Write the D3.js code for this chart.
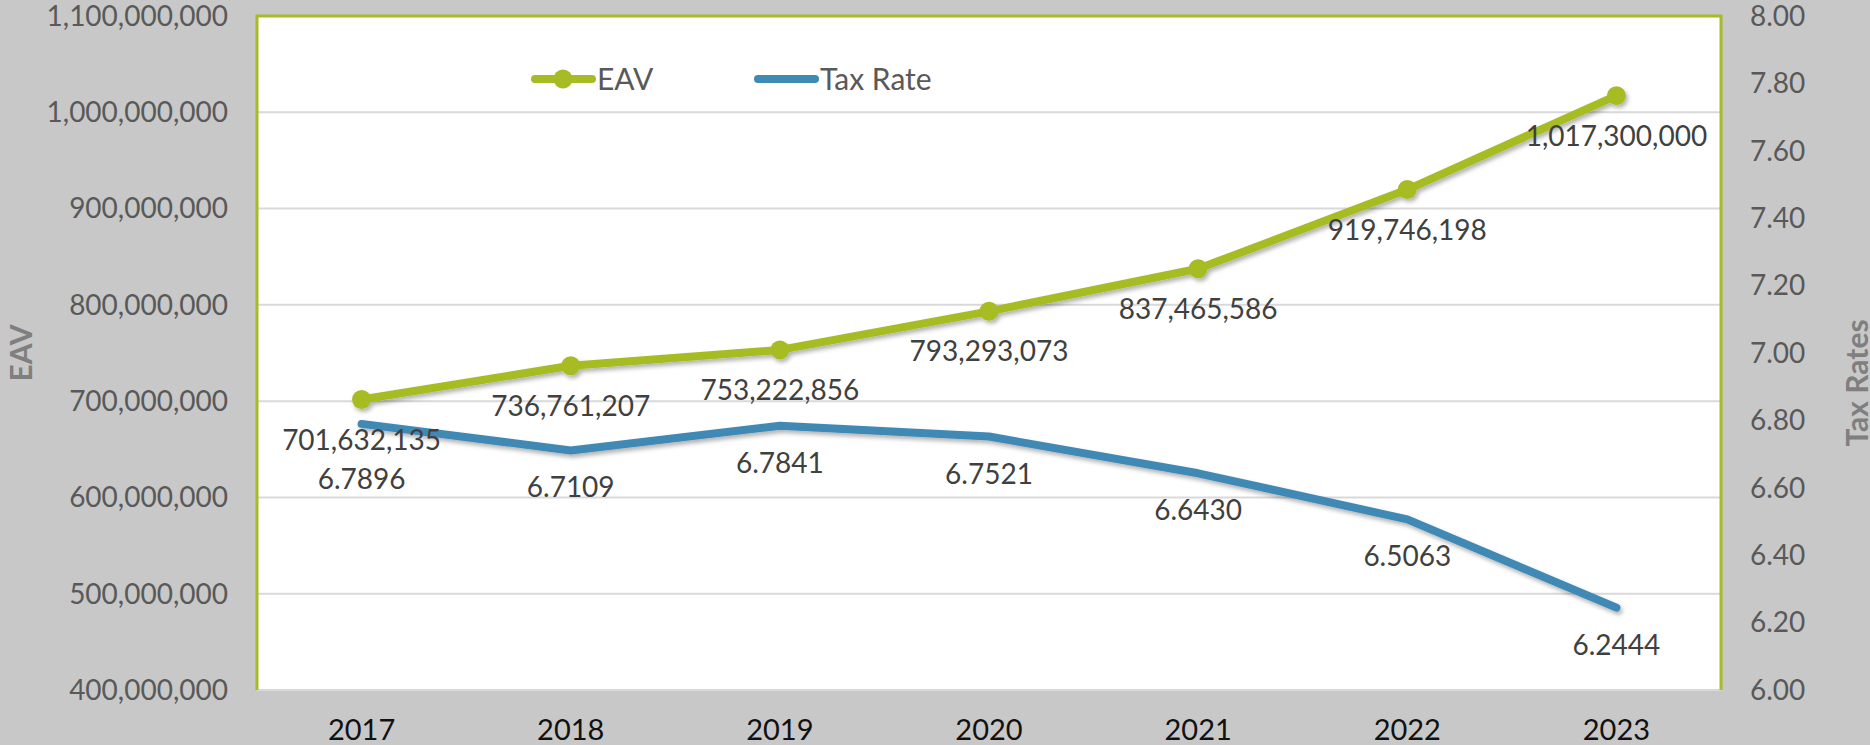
<!DOCTYPE html>
<html>
<head>
<meta charset="utf-8">
<script src="https://cdn.jsdelivr.net/npm/d3@7"></script>
<style>
  body { margin: 0; background: #c8c8c8; }
  svg { display: block; font-family: Lato, "Open Sans", sans-serif; }
</style>
</head>
<body>
<script>
// values
var years = ["2017", "2018", "2019", "2020", "2021", "2022", "2023"];
var eav = [701632135, 736761207, 753222856, 793293073, 837465586, 919746198, 1017300000];
var taxRate = [6.7896, 6.7109, 6.7841, 6.7521, 6.6430, 6.5063, 6.2444];
var eavTicks = [400e6, 500e6, 600e6, 700e6, 800e6, 900e6, 1000e6, 1100e6];
var rateTicks = [6.0, 6.2, 6.4, 6.6, 6.8, 7.0, 7.2, 7.4, 7.6, 7.8, 8.0];

var W = 1870, H = 745;
// note: "top" is taken by window.top, so the plot edges get a prefix
var pL = 257, pR = 1721, pT = 16, pB = 690;
var green = "#a7bb24", blue = "#3f89b5";

var svg = d3.select("body").append("svg").attr("width", W).attr("height", H);

var defs = svg.append("defs");
var f = defs.append("filter").attr("id", "shadow")
  .attr("x", "-5%").attr("y", "-20%").attr("width", "110%").attr("height", "140%");
f.append("feDropShadow").attr("dx", 2).attr("dy", 3).attr("stdDeviation", 2)
  .attr("flood-color", "#000").attr("flood-opacity", 0.3);

var x = d3.scaleBand().domain(years).range([pL, pR]);
var cx = function (d) { return x(d) + x.bandwidth() / 2; };
var yL = d3.scaleLinear().domain([400e6, 1100e6]).range([pB, pT]);
var yR = d3.scaleLinear().domain([6, 8]).range([pB, pT]);

// plot area
svg.append("rect").attr("x", pL).attr("y", pT)
  .attr("width", pR - pL).attr("height", pB - pT).attr("fill", "#fff");

// gridlines
svg.append("g").selectAll("line").data(eavTicks.slice(1)).enter().append("line")
  .attr("x1", pL).attr("x2", pR)
  .attr("y1", function (d) { return yL(d); }).attr("y2", function (d) { return yL(d); })
  .attr("stroke", "#d9d9d9").attr("stroke-width", 2);

svg.append("line").attr("x1", pL).attr("x2", pR).attr("y1", pB).attr("y2", pB)
  .attr("stroke", "#d9d9d9").attr("stroke-width", 2);

// green frame on left, top, right
svg.append("path")
  .attr("d", "M" + pL + "," + pB + "V" + pT + "H" + pR + "V" + pB)
  .attr("fill", "none").attr("stroke", green).attr("stroke-width", 3);

// left axis labels
svg.append("g").selectAll("text").data(eavTicks).enter().append("text")
  .attr("x", 228).attr("y", function (d) { return yL(d); })
  .attr("dy", "0.35em").attr("text-anchor", "end")
  .attr("font-size", 28).attr("fill", "#595959")
  .text(d3.format(","));

// right axis labels
svg.append("g").selectAll("text").data(rateTicks).enter().append("text")
  .attr("x", 1750).attr("y", function (d) { return yR(d); })
  .attr("dy", "0.35em").attr("font-size", 28).attr("fill", "#595959")
  .text(d3.format(".2f"));

// x labels
svg.append("g").selectAll("text").data(years).enter().append("text")
  .attr("x", cx).attr("y", 740).attr("text-anchor", "middle")
  .attr("font-size", 29).attr("fill", "#111")
  .text(function (d) { return d; });

// axis titles
svg.append("text").attr("transform", "translate(32,353) rotate(-90)")
  .attr("text-anchor", "middle").attr("font-size", 30).attr("font-weight", "bold")
  .attr("fill", "#7f7f7f").text("EAV");
svg.append("text").attr("transform", "translate(1868,383) rotate(-90)")
  .attr("text-anchor", "middle").attr("font-size", 30).attr("font-weight", "bold")
  .attr("fill", "#7f7f7f").text("Tax Rates");

// lines
var lineL = d3.line().x(function (d, i) { return cx(years[i]); }).y(function (d) { return yL(d); });
var lineR = d3.line().x(function (d, i) { return cx(years[i]); }).y(function (d) { return yR(d); });

svg.append("path").datum(taxRate).attr("d", lineR)
  .attr("fill", "none").attr("stroke", blue).attr("stroke-width", 8)
  .attr("stroke-linecap", "round").attr("stroke-linejoin", "round")
  .attr("filter", "url(#shadow)");

var g = svg.append("g").attr("filter", "url(#shadow)");
g.append("path").datum(eav).attr("d", lineL)
  .attr("fill", "none").attr("stroke", green).attr("stroke-width", 8)
  .attr("stroke-linejoin", "round");
g.selectAll("circle").data(eav).enter().append("circle")
  .attr("cx", function (d, i) { return cx(years[i]); })
  .attr("cy", function (d) { return yL(d); })
  .attr("r", 9.5).attr("fill", green);

// data labels
svg.append("g").selectAll("text").data(eav).enter().append("text")
  .attr("x", function (d, i) { return cx(years[i]); })
  .attr("y", function (d) { return yL(d) + 50; })
  .attr("text-anchor", "middle").attr("font-size", 28).attr("fill", "#404040")
  .text(d3.format(","));

svg.append("g").selectAll("text").data(taxRate).enter().append("text")
  .attr("x", function (d, i) { return cx(years[i]); })
  .attr("y", function (d, i) { return yR(d) + (i === 0 ? 65 : 47); })
  .attr("text-anchor", "middle").attr("font-size", 28).attr("fill", "#404040")
  .text(d3.format(".4f"));

// legend
var lg = svg.append("g");
lg.append("line").attr("x1", 535).attr("x2", 592).attr("y1", 79).attr("y2", 79)
  .attr("stroke", green).attr("stroke-width", 8).attr("stroke-linecap", "round");
lg.append("circle").attr("cx", 563).attr("cy", 79).attr("r", 9.5).attr("fill", green);
lg.append("text").attr("x", 597).attr("y", 79).attr("dy", "0.35em")
  .attr("font-size", 30).attr("fill", "#595959").text("EAV");
lg.append("line").attr("x1", 758).attr("x2", 815).attr("y1", 79).attr("y2", 79)
  .attr("stroke", blue).attr("stroke-width", 8).attr("stroke-linecap", "round");
lg.append("text").attr("x", 820).attr("y", 79).attr("dy", "0.35em")
  .attr("font-size", 30).attr("fill", "#595959").text("Tax Rate");
</script>
</body>
</html>
